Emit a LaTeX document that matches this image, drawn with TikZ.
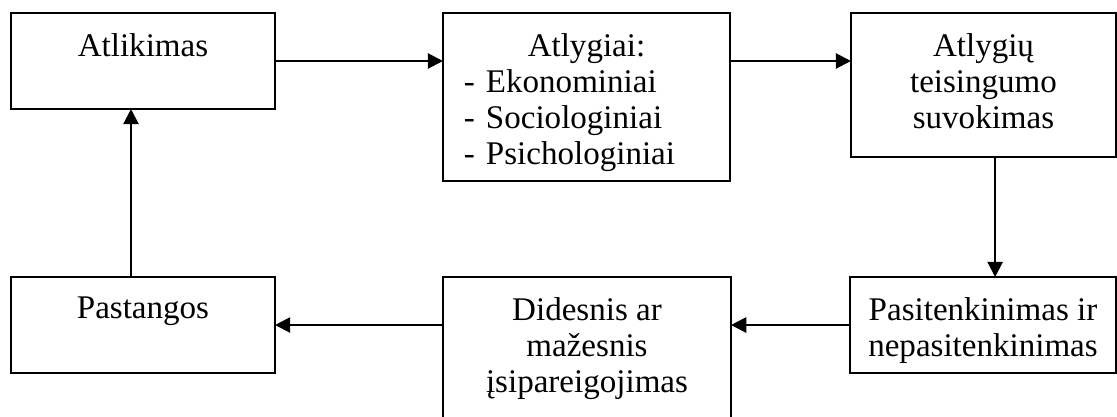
\documentclass[tikz,border=0pt]{standalone}
\usepackage{fontspec}
\setmainfont{Liberation Serif}
\usetikzlibrary{arrows.meta, positioning}

\begin{document}
\begin{tikzpicture}[
        x=0.025cm, y=-0.025cm,
        >={Triangle[length=0.38cm, width=0.38cm]},
        box/.style={rectangle, draw, line width=1.5pt, inner sep=0pt, outer sep=0pt, minimum width=#1},
        txt/.style={inner sep=0pt, align=center, font=\fontsize{23.5pt}{25.6pt}\selectfont},
        arr/.style={->, line width=1.5pt}
    ]
        \useasboundingbox[fill=white] (0, 0) rectangle (1117, 416);

        \node[box=6.6cm, minimum height=2.4cm] (atlikimas) at (143, 61) {};
        \node[box=7.175cm, minimum height=4.2cm] (atlygiai) at (586.5, 97) {};
        \node[box=6.625cm, minimum height=3.6cm] (suvokimas) at (983.5, 85) {};

        \node[box=6.6cm, minimum height=2.4cm] (pastangos) at (143, 325) {};
        \node[box=7.2cm, minimum height=4cm] (isipareigojimas) at (587, 357) {};
        \node[box=6.65cm, minimum height=2.4cm] (pasitenkinimas) at (983, 325) {};

        \node[txt, below=0.5cm of atlikimas.north] (atlikimasTxt) {Atlikimas};
        \node[txt, below=0.5cm of atlygiai.north, text width=6.125cm, align=left] (atlygiaiTxt)
            {\hfill Atlygiai:\hfill\null\\- Ekonominiai\\- Sociologiniai\\- Psichologiniai};
        \node[txt, below=0.5cm of suvokimas.north] (suvokimasTxt) {Atlygių\\teisingumo\\suvokimas};
        \node[txt, below=0.5cm of pastangos.north] (pastangosTxt) {Pastangos};
        \node[txt, below=0.5cm of isipareigojimas.north] (isipareigojimasTxt) {Didesnis ar\\mažesnis\\įsipareigojimas};
        \node[txt, below=0.5cm of pasitenkinimas.north] (pasitenkinimasTxt) {Pasitenkinimas ir\\nepasitenkinimas};

        \coordinate (downTop) at ([xshift=0.29cm]suvokimas.south);
        \coordinate (upFoot) at ([xshift=-0.3cm]pastangos.north);

        \draw[arr] (atlikimas.east) -- (atlikimas.east -| atlygiai.west);
        \draw[arr] (atlygiai.east |- atlikimas.east) -- (suvokimas.west |- atlikimas.east);
        \draw[arr] (downTop) -- (downTop |- pasitenkinimas.north);
        \draw[arr] (pasitenkinimas.west) -- (pasitenkinimas.west -| isipareigojimas.east);
        \draw[arr] (pastangos.east -| isipareigojimas.west) -- (pastangos.east);
        \draw[arr] (upFoot) -- (upFoot |- atlikimas.south);
    \end{tikzpicture}
\end{document}
